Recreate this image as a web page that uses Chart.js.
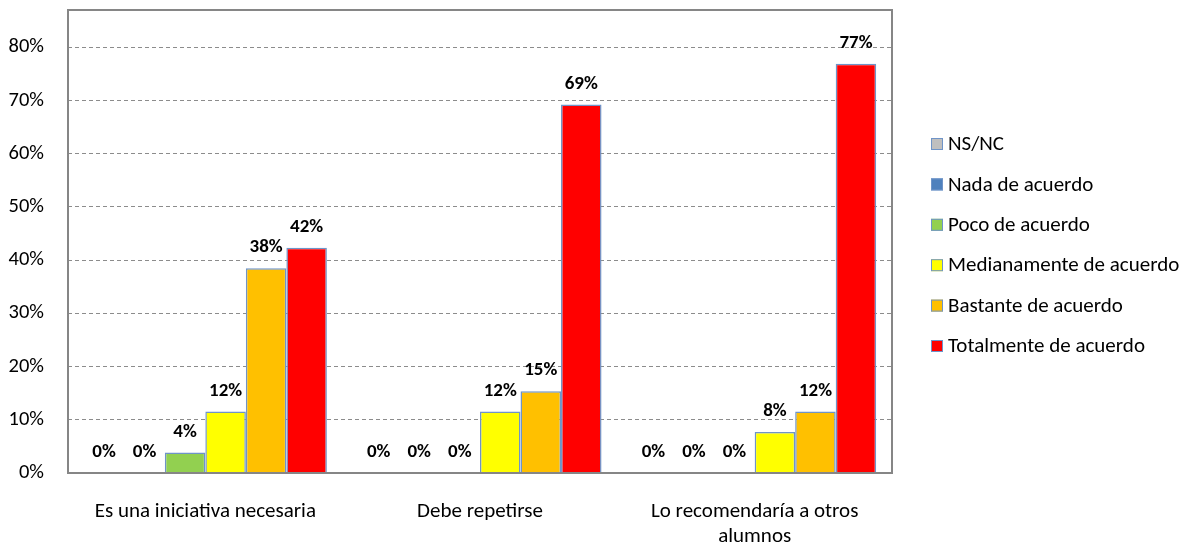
<!DOCTYPE html>
<html>
<head>
<meta charset="utf-8">
<script src="https://cdn.jsdelivr.net/npm/chart.js@4"></script>
<style>
  html, body { margin: 0; padding: 0; background: #fff; }
  #wrap { width: 1195px; height: 545px; position: relative; }
</style>
</head>
<body>
<div id="wrap"><canvas id="chart"></canvas></div>
<script>
// categorías y series (valores en %)
const categories = ['Es una iniciativa necesaria', 'Debe repetirse', ['Lo recomendaría a otros', 'alumnos']];
const seriesNames = ['NS/NC', 'Nada de acuerdo', 'Poco de acuerdo', 'Medianamente de acuerdo', 'Bastante de acuerdo', 'Totalmente de acuerdo'];
const seriesColors = ['#BFBFBF', '#4F81BD', '#92D050', '#FFFF00', '#FFC000', '#FF0000'];
const nsnc = [0, 0, 0];
const nada = [0, 0, 0];
const poco = [3.85, 0, 0];
const medianamente = [11.54, 11.54, 7.69];
const bastante = [38.46, 15.38, 11.54];
const totalmente = [42.31, 69.23, 76.92];
const yTicks = [0, 10, 20, 30, 40, 50, 60, 70, 80];

const FONT = 'Carlito, Lato, sans-serif';
const BAR_BORDER = '#6F94C8';
const AXIS_GRAY = '#868686';

const seriesValues = [nsnc, nada, poco, medianamente, bastante, totalmente];

// marco del área de trazado
const framePlugin = {
  id: 'frame',
  afterDatasetsDraw(chart) {
    const { ctx, chartArea: a } = chart;
    ctx.save();
    ctx.strokeStyle = AXIS_GRAY;
    ctx.lineWidth = 2;
    ctx.strokeRect(a.left, a.top, a.right - a.left, a.bottom - a.top);
    ctx.restore();
  }
};

// etiquetas de valor encima de cada barra
const valueLabels = {
  id: 'valueLabels',
  afterDatasetsDraw(chart) {
    const { ctx } = chart;
    ctx.save();
    ctx.font = 'bold 19px ' + FONT;
    ctx.fillStyle = '#000';
    ctx.textAlign = 'center';
    ctx.textBaseline = 'alphabetic';
    chart.data.datasets.forEach((ds, i) => {
      const meta = chart.getDatasetMeta(i);
      meta.data.forEach((bar, j) => {
        ctx.fillText(Math.round(ds.data[j]) + '%', bar.x, bar.y - 16);
      });
    });
    ctx.restore();
  }
};

// leyenda a la derecha
const sideLegend = {
  id: 'sideLegend',
  afterDraw(chart) {
    const { ctx } = chart;
    ctx.save();
    ctx.font = '21px ' + FONT;
    ctx.textBaseline = 'middle';
    ctx.textAlign = 'left';
    chart.data.datasets.forEach((ds, i) => {
      const y = 144 + i * 40.4;
      ctx.fillStyle = ds.backgroundColor;
      ctx.fillRect(931, y - 6, 12, 12);
      ctx.strokeStyle = BAR_BORDER;
      ctx.lineWidth = 1;
      ctx.strokeRect(931.5, y - 5.5, 11, 11);
      ctx.fillStyle = '#000';
      ctx.fillText(ds.label, 948, y + 1);
    });
    ctx.restore();
  }
};

new Chart(document.getElementById('chart'), {
  type: 'bar',
  data: {
    labels: categories,
    datasets: seriesNames.map((name, i) => ({
      label: name,
      data: seriesValues[i],
      backgroundColor: seriesColors[i],
      borderColor: BAR_BORDER,
      borderWidth: (c) => (c.raw === 0 ? 0 : 1.5),
      borderSkipped: 'bottom',
      barPercentage: 1,
      categoryPercentage: 0.885
    }))
  },
  options: {
    responsive: true,
    maintainAspectRatio: false,
    animation: false,
    layout: { padding: { top: 10, right: 303, left: 0, bottom: 0 } },
    plugins: {
      legend: { display: false },
      tooltip: { enabled: false }
    },
    scales: {
      x: {
        grid: { display: false },
        border: { display: false },
        ticks: {
          color: '#000',
          padding: 18,
          maxRotation: 0,
          font: { family: FONT, size: 21, lineHeight: 1.2 }
        },
        afterFit: (s) => { s.height = 72; }
      },
      y: {
        min: 0,
        max: 87,
        afterBuildTicks: (s) => { s.ticks = yTicks.map(v => ({ value: v })); },
        grid: { color: '#8C8C8C', lineWidth: 1, drawTicks: false },
        border: { display: false, dash: [4, 3] },
        ticks: {
          color: '#000',
          padding: 24,
          font: { family: FONT, size: 20.5 },
          callback: (v) => v + '%'
        },
        afterFit: (s) => { s.width = 68; s.paddingTop = 0; s.paddingBottom = 0; }
      }
    }
  },
  plugins: [framePlugin, valueLabels, sideLegend]
});
</script>
</body>
</html>
